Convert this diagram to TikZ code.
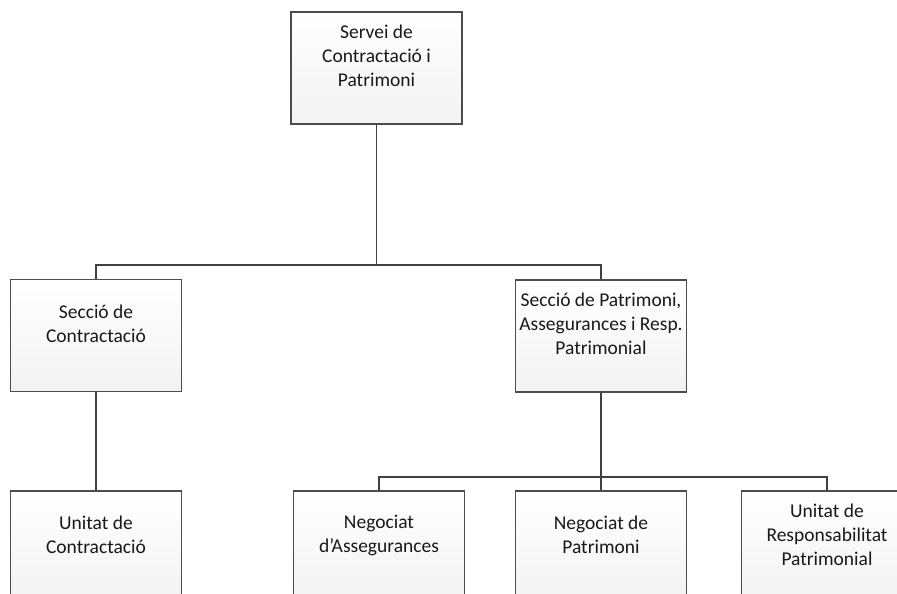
\documentclass[tikz,border=0pt]{standalone}
\usepackage{fontspec}
\setmainfont{Carlito}
\begin{document}
\begin{tikzpicture}[x=1pt,y=-1pt,
  orgbox/.style={draw=black!70,line width=1.2pt,top color=white,bottom color=black!5,
    minimum width=171pt,minimum height=112pt,inner sep=0pt},
  orgtxt/.style={align=center,font=\fontsize{19.5pt}{24pt}\selectfont,text=black!90,inner sep=0pt},
  conn/.style={draw=black!75,line width=1.2pt}]
\useasboundingbox (0,0) rectangle (897,594);
\clip (0,0) rectangle (897,594);
\node[orgbox] (top) at (376.5,68) {};
\node[orgtxt] (topt) at ([yshift=12pt]top.center) {Servei de\\Contractació i\\Patrimoni};
\node[orgbox] (lm) at (96,335.5) {};
\node[orgtxt] (lmt) at ([yshift=12pt]lm.center) {Secció de\\Contractació};
\node[orgbox] (rm) at (601,336) {};
\node[orgtxt] (rmt) at ([yshift=12pt]rm.center) {Secció de Patrimoni,\\Assegurances i Resp.\\Patrimonial};
\node[orgbox] (lb) at (96,547) {};
\node[orgtxt] (lbt) at ([yshift=12pt]lb.center) {Unitat de\\Contractació};
\node[orgbox] (nb1) at (379,547) {};
\node[orgtxt] (nb1t) at ([yshift=12pt]nb1.center) {Negociat\\d’Assegurances};
\node[orgbox] (nb2) at (601,547) {};
\node[orgtxt] (nb2t) at ([yshift=12pt]nb2.center) {Negociat de\\Patrimoni};
\node[orgbox] (nb3) at (827,547) {};
\node[orgtxt] (nb3t) at ([yshift=12pt]nb3.center) {Unitat de\\Responsabilitat\\Patrimonial};
\coordinate (bus1) at (0,265);
\coordinate (bus2) at (0,477);
\draw[conn] (top.south) -- (top.south |- bus1);
\draw[conn] (lm.north) -- (lm.north |- bus1) -- (rm.north |- bus1) -- (rm.north);
\draw[conn] (lm.south) -- (lb.north);
\draw[conn] (rm.south) -- (rm.south |- bus2);
\draw[conn] (nb1.north) -- (nb1.north |- bus2) -- (nb3.north |- bus2) -- (nb3.north);
\draw[conn] (nb2.north) -- (nb2.north |- bus2);
\end{tikzpicture}
\end{document}
